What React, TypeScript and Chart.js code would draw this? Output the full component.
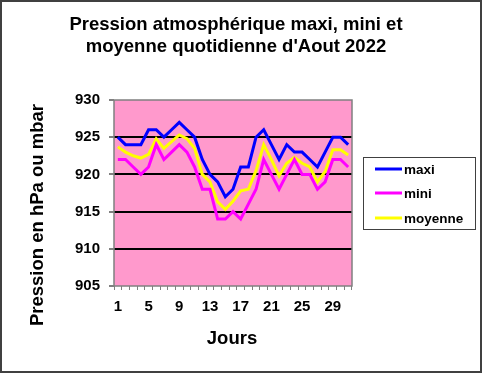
import React, { useEffect, useRef } from "react";
import { Chart, registerables } from "chart.js";

Chart.register(...registerables);

const days = Array.from({ length: 31 }, (_, i) => String(i + 1));
const maxi = [925, 924, 924, 924, 926, 926, 925, 926, 927, 926, 925, 922, 920, 919, 917, 918, 921, 921, 925, 926, 924, 922, 924, 923, 923, 922, 921, 923, 925, 925, 924];
const mini = [922, 922, 921, 920, 921, 924, 922, 923, 924, 923, 921, 918, 918, 914, 914, 915, 914, 916, 918, 922, 920, 918, 920, 922, 920, 920, 918, 919, 922, 922, 921];
const moyenne = [923.7, 923, 922.5, 922.2, 922.7, 924.8, 923.5, 924.4, 925.3, 924.8, 923.5, 920, 919, 916.3, 915.3, 916.4, 917.8, 918, 920.5, 924, 922, 919.8, 921.5, 922.3, 921.5, 921, 919, 920.4, 923.3, 923.3, 922.6];
const yTicks = [905, 910, 915, 920, 925, 930];
const titleLines = ["Pression atmosphérique maxi, mini et", "moyenne quotidienne d'Aout 2022"];
const yTitle = "Pression en hPa ou mbar";
const xTitle = "Jours";

const FONT = "'Liberation Sans', Arial, sans-serif";

export default function App() {
  const ref = useRef<HTMLCanvasElement>(null);
  useEffect(() => {
    const decor = {
      id: "decor",
      beforeDraw(chart: any) {
        const { ctx, chartArea: a } = chart;
        ctx.save();
        ctx.fillStyle = "#ffffff";
        ctx.fillRect(0, 0, chart.width, chart.height);
        ctx.fillStyle = "#FF99CC";
        ctx.fillRect(a.left, a.top, a.right - a.left, a.bottom - a.top);
        ctx.restore();
      },
      afterDatasetsDraw(chart: any) {
        const { ctx, chartArea: a } = chart;
        ctx.save();
        ctx.strokeStyle = "#808080";
        ctx.lineWidth = 1.5;
        ctx.strokeRect(a.left, a.top, a.right - a.left, a.bottom - a.top);
        ctx.restore();
      },
      afterDraw(chart: any) {
        const { ctx } = chart;
        ctx.save();
        ctx.strokeStyle = "#404040";
        ctx.lineWidth = 2;
        ctx.strokeRect(1, 1, chart.width - 2, chart.height - 2);
        ctx.fillStyle = "#000";
        ctx.textAlign = "center";
        ctx.textBaseline = "middle";
        ctx.font = `bold 18.5px ${FONT}`;
        ctx.fillText(titleLines[0], 236, 25);
        ctx.fillText(titleLines[1], 236, 47);
        ctx.fillText(xTitle, 232, 339);
        ctx.save();
        ctx.translate(38, 215);
        ctx.rotate(-Math.PI / 2);
        ctx.fillText(yTitle, 0, 0);
        ctx.restore();
        ctx.strokeStyle = "#404040";
        ctx.lineWidth = 1;
        ctx.strokeRect(363.5, 157.5, 112, 72);
        const items = chart.data.datasets;
        const ys = [169, 193, 218];
        ctx.font = `bold 13.5px ${FONT}`;
        ctx.textAlign = "left";
        items.forEach((ds: any, i: number) => {
          ctx.strokeStyle = ds.borderColor;
          ctx.lineWidth = 3;
          ctx.beginPath();
          ctx.moveTo(375, ys[i]);
          ctx.lineTo(402, ys[i]);
          ctx.stroke();
          ctx.fillStyle = "#000";
          ctx.fillText(ds.label, 404, ys[i] + 1);
        });
        ctx.restore();
      },
    };

    const chart = new Chart(ref.current!, {
      type: "line",
      data: {
        labels: days,
        datasets: [
          { label: "maxi", data: maxi, borderColor: "#0000FF", borderWidth: 3, pointRadius: 0, tension: 0 },
          { label: "mini", data: mini, borderColor: "#FF00FF", borderWidth: 3, pointRadius: 0, tension: 0 },
          { label: "moyenne", data: moyenne, borderColor: "#FFFF00", borderWidth: 3, pointRadius: 0, tension: 0 },
        ],
      },
      options: {
        responsive: false,
        animation: false,
        layout: { padding: { top: 100, right: 130, left: 0, bottom: 0 } },
        plugins: { legend: { display: false }, title: { display: false }, tooltip: { enabled: false } },
        scales: {
          x: {
            type: "category",
            offset: true,
            afterFit: (s: any) => { s.height = 87; },
            grid: { offset: true, drawOnChartArea: false, drawTicks: true, tickLength: 4, color: "#808080", tickColor: "#808080" },
            border: { display: false },
            ticks: {
              autoSkip: false,
              maxRotation: 0,
              padding: 8,
              color: "#000",
              font: { family: FONT, size: 15, weight: "bold" },
              callback: (_v: any, i: number) => (i % 4 === 0 ? days[i] : ""),
            },
          },
          y: {
            min: 905,
            max: 930,
            afterFit: (s: any) => { s.width = 114; },
            afterBuildTicks: (s: any) => { s.ticks = yTicks.map((v) => ({ value: v })); },
            grid: {
              lineWidth: 2,
              color: (c: any) => (c.tick && (c.tick.value === 905 || c.tick.value === 930) ? "rgba(0,0,0,0)" : "#000"),
              tickColor: "#808080",
              tickLength: 5,
              drawTicks: true,
            },
            border: { display: false },
            ticks: {
              padding: 9,
              color: "#000",
              font: { family: FONT, size: 15, weight: "bold" },
            },
          },
        },
      },
      plugins: [decor],
    } as any);
    return () => chart.destroy();
  }, []);
  return (
    <div style={{ position: "fixed", left: 0, top: 0, width: 482, height: 373 }}>
      <canvas ref={ref} width={482} height={373} />
    </div>
  );
}
